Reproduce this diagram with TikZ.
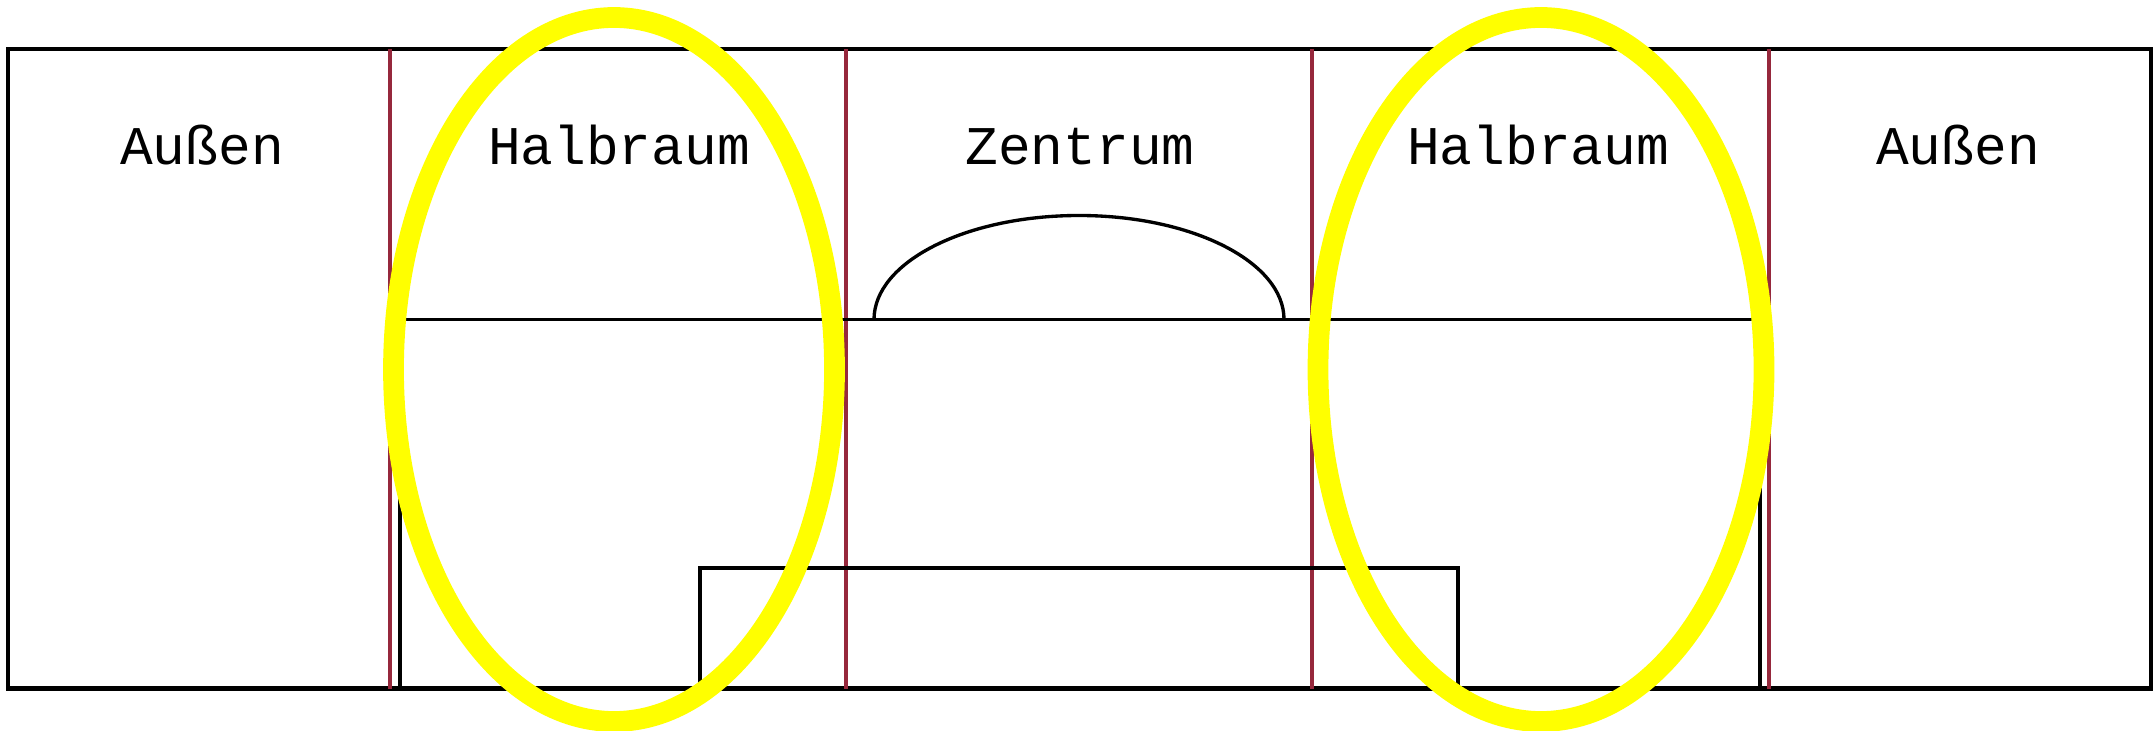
\documentclass[tikz,border=0pt]{standalone}
\usepackage{fontspec}
\setmonofont{Liberation Mono}
\definecolor{divred}{RGB}{150,40,60}
\definecolor{ringyellow}{RGB}{255,255,0}
\begin{document}
\begin{tikzpicture}[x=0.01cm,y=-0.01cm,
  frame/.style={draw=black, line width=1.3pt},
  wall/.style={draw=black, line width=0.95pt},
  divider/.style={draw=divred, line width=1.0pt},
  ring/.style={draw=ringyellow, line width=5.9pt},
  lbl/.style={font=\ttfamily\fontsize{15.5}{18}\selectfont, anchor=base, inner sep=0pt}]
\useasboundingbox[fill=white] (0,0) rectangle (2155,731);
% frame
\draw[frame] (8,49) rectangle (2151,688.5);
% red dividers
\foreach \xx in {390,846,1312,1769}{\draw[divider] (\xx,49) -- (\xx,688.5);}
% black profile
\draw[wall] (400,688.5) -- (400,319.5) -- (1760,319.5) -- (1760,688.5);
\draw[wall] (874,319.5) arc[start angle=180, end angle=360, x radius=205, y radius=104];
\draw[wall] (700,688.5) -- (700,568) -- (1458,568) -- (1458,688.5);
% labels
\node[lbl] (aussenL) at (202,165) {Außen};
\node[lbl] (halbL) at (619,165) {Halbraum};
\node[lbl] (zentrum) at (1080,165) {Zentrum};
\node[lbl] (halbR) at (1538,165) {Halbraum};
\node[lbl] (aussenR) at (1958,165) {Außen};
% yellow highlight ellipses
\draw[ring] (614,369.5) ellipse [x radius=220.5, y radius=352];
\draw[ring] (1541,369.5) ellipse [x radius=223, y radius=352];
\end{tikzpicture}
\end{document}
